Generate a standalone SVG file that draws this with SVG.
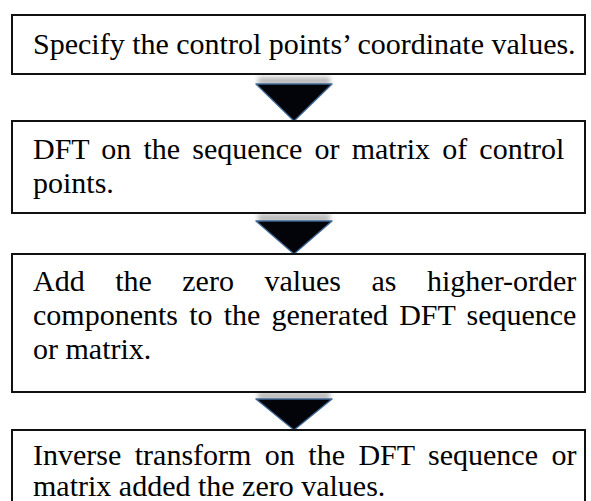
<svg xmlns="http://www.w3.org/2000/svg" width="591" height="501" viewBox="0 0 591 501">
  <defs>
    <filter id="blur" x="-20%" y="-100%" width="140%" height="300%">
      <feGaussianBlur stdDeviation="2.5"/>
    </filter>
    <style>
      .box { fill: #ffffff; stroke: #111111; stroke-width: 2; }
      .txt { font-family: "Liberation Serif", "Times New Roman", serif; font-size: 30px; fill: #000000; }
      .shadow { fill: #9a9a9a; opacity: 0.7; filter: url(#blur); }
      .head { fill: #03040a; stroke: #3f6792; stroke-width: 1.4; stroke-linejoin: round; }
    </style>
  </defs>
  <rect width="591" height="501" fill="#ffffff"/>

  <g id="connectors">
    <g id="arrow1">
      <rect class="shadow" x="258" y="77" width="72" height="8"/>
      <polygon class="head" points="256,84 332,84 294,121"/>
    </g>
    <g id="arrow2">
      <rect class="shadow" x="258" y="214" width="72" height="8"/>
      <polygon class="head" points="256,221 332,221 294,254"/>
    </g>
    <g id="arrow3">
      <rect class="shadow" x="258" y="392" width="72" height="8"/>
      <polygon class="head" points="256,399 332,399 294,430"/>
    </g>
  </g>

  <g id="node1">
    <rect class="box" x="12" y="15" width="573" height="59"/>
    <text class="txt" x="33" y="54">Specify the control points’ coordinate values.</text>
  </g>

  <g id="node2">
    <rect class="box" x="12" y="121" width="573" height="92"/>
    <text class="txt" x="33" y="159" word-spacing="4.69">DFT on the sequence or matrix of control</text>
    <text class="txt" x="33" y="193">points.</text>
  </g>

  <g id="node3">
    <rect class="box" x="12" y="254" width="573" height="138"/>
    <text class="txt" x="33" y="291" word-spacing="22.99">Add the zero values as higher-order</text>
    <text class="txt" x="33" y="325" word-spacing="3.66">components to the generated DFT sequence</text>
    <text class="txt" x="33" y="359">or matrix.</text>
  </g>

  <g id="node4">
    <rect class="box" x="12" y="430" width="573" height="90"/>
    <text class="txt" x="33" y="465" word-spacing="5.97">Inverse transform on the DFT sequence or</text>
    <text class="txt" x="33" y="496">matrix added the zero values.</text>
  </g>
</svg>
